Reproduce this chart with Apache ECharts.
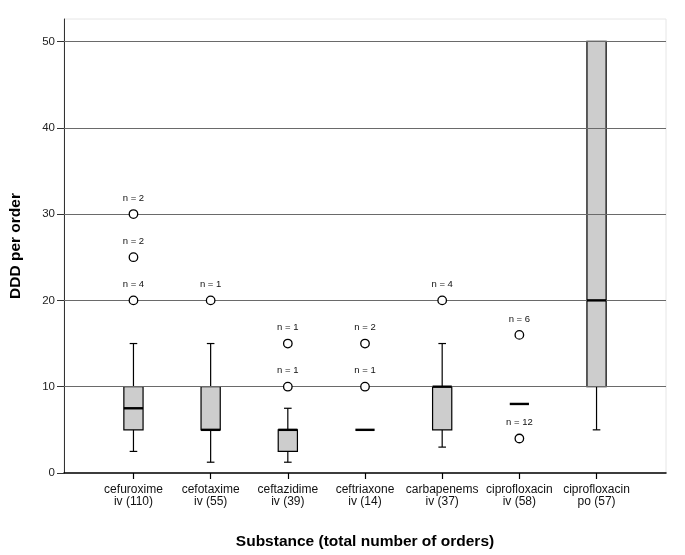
<!DOCTYPE html>
<html><head><meta charset="utf-8">
<script src="https://cdn.jsdelivr.net/npm/echarts@6/dist/echarts.min.js"></script>
<style>html,body{margin:0;padding:0;background:#fff}#c{width:685px;height:555px}</style>
</head><body><div id="c"></div>
<script>
// ---- data ----
const categories = ['cefuroxime\niv (110)', 'cefotaxime\niv (55)', 'ceftazidime\niv (39)', 'ceftriaxone\niv (14)', 'carbapenems\niv (37)', 'ciprofloxacin\niv (58)', 'ciprofloxacin\npo (57)'];
const lowWhisker  = [2.5, 1.25, 1.25, 5, 3, 8, 5];
const q1          = [5, 5, 2.5, 5, 5, 8, 10];
const median      = [7.5, 5, 5, 5, 10, 8, 20];
const q3          = [10, 10, 5, 5, 10, 8, 50];
const highWhisker = [15, 15, 7.5, 5, 15, 8, 50];
const outlierCategory = [0, 0, 0, 1, 2, 2, 3, 3, 4, 5, 5];
const outlierValue    = [20, 25, 30, 20, 10, 15, 10, 15, 20, 16, 4];
const outlierCount    = [4, 2, 2, 1, 1, 1, 1, 2, 4, 6, 12];
const yTicks = [0, 10, 20, 30, 40, 50];
const gridLines = [10, 20, 30, 40, 50];

// ---- chart ----
const FONT = 'Liberation Sans, Arial, sans-serif';
const catPos = categories.map((c, i) => i + 1);
const boxData = categories.map((c, i) => [i + 1, lowWhisker[i], q1[i], median[i], q3[i], highWhisker[i]]);
const medData = categories.map((c, i) => [i + 1, median[i]]);
const outData = outlierValue.map((v, i) => ({ value: [outlierCategory[i] + 1, v], n: outlierCount[i] }));
const HW = 9.6;

const chart = echarts.init(document.getElementById('c'), null, { renderer: 'canvas' });
chart.setOption({
  animation: false,
  backgroundColor: '#fff',
  grid: { left: 63, top: 19, width: 603, bottom: 82, show: true, borderColor: '#e6e6e6', borderWidth: 1, backgroundColor: 'transparent', containLabel: false },
  xAxis: {
    type: 'value', min: 0.1, max: 7.9,
    name: 'Substance (total number of orders)', nameLocation: 'middle', nameGap: 61,
    nameTextStyle: { fontFamily: FONT, fontWeight: 'bold', fontSize: 15.5, color: '#000' },
    axisLine: { show: true, onZero: false, lineStyle: { color: '#000', width: 1.5 } },
    axisTick: { show: true, length: 6, customValues: catPos, lineStyle: { color: '#000', width: 1.2 } },
    axisLabel: { show: true, customValues: catPos, margin: 11, fontFamily: FONT, fontSize: 12, lineHeight: 12, color: '#111',
      formatter: v => categories[Math.round(v) - 1] || '' },
    splitLine: { show: false }
  },
  yAxis: {
    type: 'value', min: 0, max: 52.6,
    name: 'DDD per order', nameLocation: 'middle', nameGap: 40, nameRotate: 90,
    nameTextStyle: { fontFamily: FONT, fontWeight: 'bold', fontSize: 15.5, color: '#000' },
    axisLine: { show: true, lineStyle: { color: '#333', width: 1 } },
    axisTick: { show: true, length: 7, customValues: yTicks, lineStyle: { color: '#333', width: 1 } },
    axisLabel: { show: true, customValues: yTicks, margin: 9, fontFamily: FONT, fontSize: 11.5, color: '#222' },
    splitLine: { show: false }
  },
  series: [
    {
      type: 'custom', z: 2, data: boxData, clip: false,
      renderItem: function (params, api) {
        const x = api.value(0), lo = api.value(1), a = api.value(2), b = api.value(4), hi = api.value(5);
        const pLo = api.coord([x, lo]), pA = api.coord([x, a]), pB = api.coord([x, b]), pHi = api.coord([x, hi]);
        const cap = 3.8, cx = pA[0];
        const ls = { stroke: '#000', lineWidth: 1.2, fill: null };
        const ch = [];
        if (hi > b) {
          ch.push({ type: 'line', shape: { x1: cx, y1: pB[1], x2: cx, y2: pHi[1] }, style: ls });
          ch.push({ type: 'line', shape: { x1: cx - cap, y1: pHi[1], x2: cx + cap, y2: pHi[1] }, style: ls });
        }
        if (lo < a) {
          ch.push({ type: 'line', shape: { x1: cx, y1: pA[1], x2: cx, y2: pLo[1] }, style: ls });
          ch.push({ type: 'line', shape: { x1: cx - cap, y1: pLo[1], x2: cx + cap, y2: pLo[1] }, style: ls });
        }
        if (b > a) {
          ch.push({ type: 'rect', shape: { x: cx - HW, y: pB[1], width: 2 * HW, height: pA[1] - pB[1] },
            style: { fill: '#cdcdcd', stroke: '#000', lineWidth: 1.2 } });
        }
        return { type: 'group', children: ch };
      }
    },
    {
      type: 'line', z: 3, data: [], silent: true,
      markLine: {
        silent: true, symbol: ['none', 'none'], label: { show: false },
        lineStyle: { color: '#6a6a6a', width: 1, type: 'solid' },
        data: gridLines.map(v => ({ yAxis: v }))
      }
    },
    {
      type: 'custom', z: 5, data: medData, clip: false,
      renderItem: function (params, api) {
        const p = api.coord([api.value(0), api.value(1)]);
        return { type: 'line', shape: { x1: p[0] - HW, y1: p[1], x2: p[0] + HW, y2: p[1] }, style: { stroke: '#000', lineWidth: 2.4 } };
      }
    },
    {
      type: 'scatter', z: 6, data: outData, symbol: 'circle', symbolSize: 8.5,
      itemStyle: { color: '#fff', borderColor: '#000', borderWidth: 1.3, opacity: 1 },
      label: { show: true, position: 'top', distance: 6, fontFamily: FONT, fontSize: 9.5, color: '#111',
        formatter: p => 'n = ' + p.data.n }
    }
  ]
});
</script>
</body></html>
